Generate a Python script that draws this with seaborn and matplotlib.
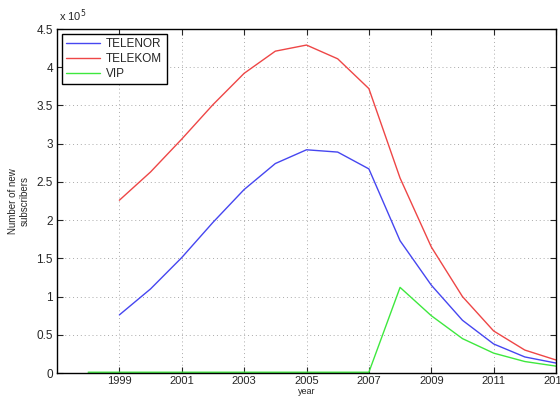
import matplotlib
matplotlib.use("Agg")
import matplotlib.pyplot as plt
import seaborn as sns
import pandas as pd
from matplotlib.ticker import FuncFormatter, MultipleLocator

years_main = [1999, 2000, 2001, 2002, 2003, 2004, 2005, 2006, 2007, 2008, 2009, 2010, 2011, 2012, 2013]
telenor = [0.76, 1.10, 1.51, 1.97, 2.40, 2.74, 2.92, 2.89, 2.67, 1.73, 1.15, 0.69, 0.38, 0.21, 0.13]
telekom = [2.26, 2.63, 3.06, 3.51, 3.92, 4.21, 4.29, 4.11, 3.72, 2.55, 1.65, 1.00, 0.55, 0.30, 0.17]
years_vip = [1998, 1999, 2000, 2001, 2002, 2003, 2004, 2005, 2006, 2007, 2008, 2009, 2010, 2011, 2012, 2013]
vip = [0.01, 0.01, 0.01, 0.01, 0.01, 0.01, 0.01, 0.01, 0.01, 0.01, 1.12, 0.75, 0.45, 0.26, 0.15, 0.09]
x_ticks = [1999, 2001, 2003, 2005, 2007, 2009, 2011, 2013]

sns.set_style("ticks")
plt.rcParams['font.family'] = ['Liberation Sans', 'DejaVu Sans']

df = pd.concat([
    pd.DataFrame({"year": years_main, "value": telenor, "operator": "TELENOR"}),
    pd.DataFrame({"year": years_main, "value": telekom, "operator": "TELEKOM"}),
    pd.DataFrame({"year": years_vip, "value": vip, "operator": "VIP"}),
])

fig = plt.figure(figsize=(5.6, 3.97), dpi=100)
W, H = 499, 344
ax = fig.add_axes([57/560, 24/397, W/560, H/397])

palette = {"TELENOR": "#4646f0", "TELEKOM": "#ee4646", "VIP": "#3ee83e"}
sns.lineplot(data=df, x="year", y="value", hue="operator", palette=palette,
             linewidth=1.0, ax=ax, legend=True, clip_on=False)

ax.set_xlim(1997, 2013)
ax.set_ylim(0, 4.5)
ax.set_xticks(x_ticks)
ax.yaxis.set_major_locator(MultipleLocator(0.5))
ax.yaxis.set_major_formatter(FuncFormatter(lambda v, p: f"{v:g}"))
ax.tick_params(direction="in", top=True, right=True, labelsize=8.5, length=4, width=0.8, pad=3)
ax.tick_params(axis="x", labelsize=8, pad=2)
ax.grid(True, linestyle=(0, (1, 3)), color="#aaaaaa", linewidth=0.7)
for s in ax.spines.values():
    s.set_linewidth(1.0)
    s.set_color("black")

ax.set_xlabel("year", fontsize=6.5)
ax.xaxis.set_label_coords(0.5, -14/H)
ax.xaxis.label.set_va("top")
ax.set_ylabel("Number of new\nsubscribers", fontsize=7, labelpad=5)
ax.text(0.005, 1.015, r"x 10$^5$", transform=ax.transAxes, fontsize=8, ha="left", va="bottom")

leg = ax.legend(loc="upper left", fontsize=8.5, frameon=True, fancybox=False,
                edgecolor="black", framealpha=1, borderpad=0.35, handlelength=2.9,
                handletextpad=0.5, labelspacing=0.25, borderaxespad=0,
                bbox_to_anchor=(5/W, 1 - 5/H))
leg.get_frame().set_linewidth(1.0)

fig.savefig("out.png", dpi=100)
